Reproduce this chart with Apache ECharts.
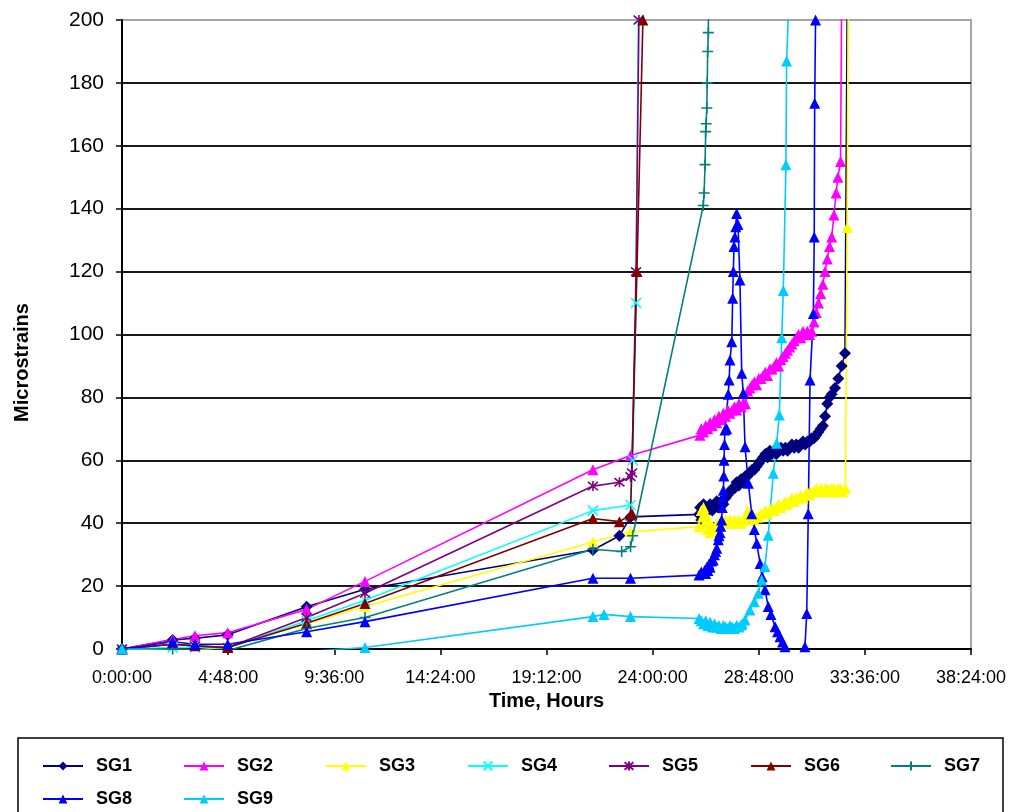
<!DOCTYPE html>
<html>
<head>
<meta charset="utf-8">
<script src="https://cdn.jsdelivr.net/npm/echarts@6/dist/echarts.min.js"></script>
<style>
html,body{margin:0;padding:0;background:#fff;}
#chart{width:1010px;height:812px;}
</style>
</head>
<body>
<div id="chart"></div>
<script>
// ---- data (time in hours, microstrains) ----
const seriesNames = ['SG1','SG2','SG3','SG4','SG5','SG6','SG7','SG8','SG9'];
const xTicks = {min: 0, max: 38.4, step: 4.8};
const yTicks = {min: 0, max: 200, step: 20};

const SG1 = [[0,0],[2.29,2.9],[3.3,3.4],[4.78,4.5],[8.35,13.4],[10.99,19],[21.3,31.5],[22.5,36],[23.0,42],[26.1,42.8],
[26.15,45],[26.2,41],[26.25,44],[26.3,46],[26.35,43],[26.4,45],[26.5,44],[26.6,46],[26.7,44],[26.8,45],[26.9,47],[27.0,45],[27.1,47],[27.2,46],[27.3,48],[27.4,49],[27.5,50],[27.6,51],[27.7,51],[27.8,53],[27.9,52],[28.0,54],[28.1,53],[28.2,55],[28.3,55],[28.4,56],[28.5,57],[28.6,57],[28.7,58],[28.8,59],[28.9,60],[29.0,61],[29.1,62],[29.2,61],[29.3,63],[29.4,62],[29.5,63],[29.6,62],[29.7,63],[29.8,64],[29.9,63],[30.0,64],[30.1,63],[30.2,64],[30.3,65],[30.4,64],[30.5,65],[30.6,64],[30.7,65],[30.8,66],[30.9,65],[31.0,66],[31.1,66],[31.2,67],[31.3,67],[31.4,68],[31.5,69],[31.6,70],[31.7,71],[31.8,74],[31.9,78],[32.0,80],[32.1,81],[32.25,83],[32.4,86],[32.55,90],[32.7,94],[32.85,260]];

const SG2 = [[0,0],[2.29,3],[3.3,4.2],[4.78,5.2],[8.35,12.6],[10.99,21.5],[21.3,57],[23.0,61.5],[26.14,68],
[26.2,70],[26.3,69],[26.4,71],[26.5,70],[26.6,72],[26.7,71],[26.8,73],[26.9,72],[27.0,74],[27.1,73],[27.2,75],[27.3,74],[27.4,76],[27.5,75],[27.6,76],[27.7,77],[27.8,76],[27.9,78],[28.0,77],[28.1,78],[28.2,78],[28.3,82],[28.4,83],[28.5,84],[28.6,85],[28.7,84],[28.8,86],[28.9,86],[29.0,87],[29.1,88],[29.2,87],[29.3,89],[29.4,89],[29.5,90],[29.6,91],[29.7,90],[29.8,92],[29.9,93],[30.0,94],[30.1,95],[30.2,96],[30.3,97],[30.4,98],[30.5,99],[30.6,100],[30.7,99],[30.8,101],[30.9,100],[31.0,101],[31.1,100],[31.2,101],[31.3,104],[31.4,107],[31.5,110],[31.6,113],[31.7,116],[31.8,120],[31.9,124],[32.0,128],[32.1,131],[32.2,138],[32.3,145],[32.38,150],[32.5,155],[32.6,260]];

const SG3 = [[0,0],[2.29,-0.5],[3.3,-0.5],[4.78,0.7],[8.35,8],[10.99,13.5],[21.3,34],[23.0,37.3],[26.1,38.9],
[26.2,44],[26.25,42],[26.3,45],[26.35,40],[26.4,43],[26.45,38],[26.5,41],[26.6,37],[26.7,39],[26.8,38],[26.9,40],[27.0,39],[27.1,40],[27.2,40],[27.3,41],[27.4,40],[27.5,41],[27.6,40],[27.7,41],[27.8,40],[27.9,41],[28.0,40],[28.1,41],[28.2,41],[28.3,44],[28.4,43],[28.5,42],[28.6,41],[28.7,42],[28.8,42],[28.9,43],[29.0,43],[29.1,44],[29.2,43],[29.3,44],[29.4,45],[29.5,44],[29.6,45],[29.7,46],[29.8,45],[29.9,46],[30.0,47],[30.1,46],[30.2,47],[30.3,48],[30.4,47],[30.5,48],[30.6,48],[30.7,49],[30.8,48],[30.9,49],[31.0,50],[31.1,49],[31.2,50],[31.3,50],[31.4,51],[31.5,50],[31.6,51],[31.7,50],[31.8,51],[31.9,51],[32.0,50],[32.1,51],[32.2,51],[32.3,50],[32.4,51],[32.5,51],[32.6,50],[32.72,51],[32.8,134],[32.88,260]];

const SG4 = [[0,0],[2.29,0.5],[3.3,0.5],[4.78,0.3],[8.35,9],[10.99,15.5],[21.3,44],[23.0,45.8],[23.1,60],[23.25,110],[23.35,200],[23.4,260]];

const SG5 = [[0,0],[2.29,1.5],[3.3,1],[4.78,0.5],[8.35,10],[10.99,17.7],[21.3,51.8],[22.5,53],[23.0,54.8],[23.07,56],[23.25,120],[23.38,200],[23.45,260]];

const SG6 = [[0,0],[2.29,1.5],[3.3,1],[4.78,0.5],[8.35,8.2],[10.99,14.5],[21.3,41.5],[22.5,40.5],[23.0,42.6],[23.07,43],[23.29,120],[23.56,200],[23.6,260]];

const SG7 = [[0,0],[2.29,0],[3.3,-0.3],[4.78,-0.5],[8.35,6.5],[10.99,10],[21.3,31.7],[22.6,31],[23.0,32.5],[23.1,36],[26.29,141],[26.33,145],[26.37,154],[26.4,164.5],[26.42,167],[26.45,172],[26.47,180],[26.49,190],[26.52,196],[26.55,260]];

const SG8 = [[0,0],[2.29,2.3],[3.3,1.5],[4.78,1.5],[8.35,5.5],[10.99,8.7],[21.3,22.5],[23.0,22.5],[26.1,23.5],
[26.2,24.5],[26.29,24],[26.35,25],[26.4,24],[26.45,26],[26.5,25],[26.55,27],[26.6,26],[26.65,28],[26.74,28.3],[26.8,30],[26.85,31],[26.9,32],[26.97,34.7],[27.0,36],[27.05,37],[27.08,39],[27.12,41],[27.15,45],[27.18,48],[27.2,50.5],[27.22,55],[27.23,60],[27.25,65],[27.27,69.6],[27.35,70],[27.42,81],[27.46,85.5],[27.5,91.9],[27.58,97.7],[27.62,111.5],[27.65,120],[27.68,128],[27.72,131],[27.76,134.3],[27.8,138.5],[27.86,135],[27.95,117.3],[28.03,87.7],[28.1,81.3],[28.18,64.3],[28.33,52.7],[28.48,43],[28.6,38],[28.71,33.6],[28.86,27.2],[28.95,23],[29.08,18.8],[29.23,13.5],[29.35,11],[29.54,7.1],[29.65,5.5],[29.76,3.9],[29.88,2.2],[29.99,0.7],[30.4,-15],[30.89,0.7],[30.97,11.3],[31.04,43],[31.12,85.5],[31.27,106.7],[31.31,131],[31.33,173.5],[31.37,200],[31.4,260]];

const SG9 = [[0,0],[2.29,-0.5],[3.3,-1],[4.78,-1],[8.35,-0.8],[10.99,0.5],[21.3,10.3],[21.8,11],[23.0,10.3],[26.1,9.7],
[26.2,9],[26.3,8],[26.4,9],[26.5,7.5],[26.6,8.5],[26.7,7],[26.8,8],[26.9,7],[27.0,7.5],[27.1,6.5],[27.2,7.5],[27.3,7],[27.4,6.5],[27.5,7.5],[27.6,7],[27.7,6.5],[27.8,7.5],[27.9,7],[28.0,7.6],[28.05,8],[28.18,9.2],[28.4,12.4],[28.6,15],[28.78,17.7],[28.93,21.9],[29.08,26.2],[29.23,36.2],[29.46,55.9],[29.61,65.4],[29.73,74.4],[29.84,99],[29.91,114],[30.03,154],[30.06,187],[30.14,202],[30.2,260]];

const seriesData = [SG1,SG2,SG3,SG4,SG5,SG6,SG7,SG8,SG9];

// ---- styles ----
const colors = ['#000080','#FF00FF','#FFFF00','#00FFFF','#800080','#800000','#008080','#0000FF','#00CCFF'];
const symX = 'path://M0,0L10,10M10,0L0,10';
const symStar = 'path://M0,0L10,10M10,0L0,10M5,-1L5,11';
const symPlus = 'path://M5,0L5,10M0,5L10,5';
const symbols = ['diamond','triangle','triangle',symX,symStar,'triangle',symPlus,'triangle','triangle'];
const symbolSizes = [12,11,11,10,10,11,11,11,11];
const FONT = 'Liberation Sans, Arial, sans-serif';

function fmtTime(v){
  const h = Math.floor(v + 1e-6);
  let m = Math.round((v - h) * 60);
  return h + ':' + (m < 10 ? '0' + m : m) + ':00';
}

const series = seriesNames.map((n,i)=>{
  const stroked = typeof symbols[i] === 'string' && symbols[i].indexOf('path://')===0;
  return {
    name: n, type: 'line', data: seriesData[i],
    symbol: symbols[i], symbolSize: symbolSizes[i], showAllSymbol: true,
    clip: true, animation: false,
    lineStyle: {color: colors[i], width: 1.6},
    itemStyle: stroked ? {color: colors[i], borderColor: colors[i], borderWidth: 1.6} : {color: colors[i], borderWidth: 0}
  };
});

const legendPos = [[42,757],[183,757],[325,757],[467,757],[608,757],[750,757],[890,757],[42,790],[183,790]];
const legends = seriesNames.map((n,i)=>({
  data: [n], left: legendPos[i][0], top: legendPos[i][1], padding: 0,
  itemWidth: 40, itemHeight: 11, selectedMode: false,
  textStyle: {fontFamily: FONT, fontWeight: 'bold', fontSize: 18, color: '#000', padding: [0,0,0,8]}
}));

const gridColors = [];
for (let v = yTicks.min; v <= yTicks.max; v += yTicks.step) gridColors.push(v === yTicks.max ? '#a6a6a6' : '#1a1a1a');

const option = {
  backgroundColor: '#fff',
  animation: false,
  grid: {left: 122, right: 39, top: 20, bottom: 163, show: true, borderColor: '#a6a6a6', borderWidth: 2, backgroundColor: 'transparent'},
  xAxis: {
    type: 'value', min: xTicks.min, max: xTicks.max, interval: xTicks.step,
    name: 'Time, Hours', nameLocation: 'middle', nameGap: 42,
    nameTextStyle: {fontFamily: FONT, fontWeight: 'bold', fontSize: 20, color: '#000'},
    axisLine: {show: true, onZero: false, lineStyle: {color: '#000', width: 2}},
    axisTick: {show: true, length: 6, lineStyle: {color: '#000', width: 1.5}},
    axisLabel: {formatter: fmtTime, fontFamily: FONT, fontSize: 18, color: '#000', margin: 20},
    splitLine: {show: false}
  },
  yAxis: {
    type: 'value', min: yTicks.min, max: yTicks.max, interval: yTicks.step,
    name: 'Microstrains', nameLocation: 'middle', nameGap: 90, nameRotate: 90,
    nameTextStyle: {fontFamily: FONT, fontWeight: 'bold', fontSize: 20, color: '#000', padding: [0, 56, 0, 0]},
    axisLine: {show: true, lineStyle: {color: '#000', width: 2}},
    axisTick: {show: true, length: 6, lineStyle: {color: '#000', width: 1.5}},
    axisLabel: {fontFamily: FONT, fontSize: 21, color: '#000', margin: 18},
    splitLine: {show: true, lineStyle: {color: gridColors, width: 2}}
  },
  legend: legends,
  graphic: [{type: 'rect', shape: {x: 18, y: 738, width: 985, height: 100}, style: {fill: 'none', stroke: '#000', lineWidth: 1.5}, silent: true}],
  series: series
};

const chart = echarts.init(document.getElementById('chart'), null, {renderer: 'canvas'});
chart.setOption(option);
</script>
</body>
</html>
